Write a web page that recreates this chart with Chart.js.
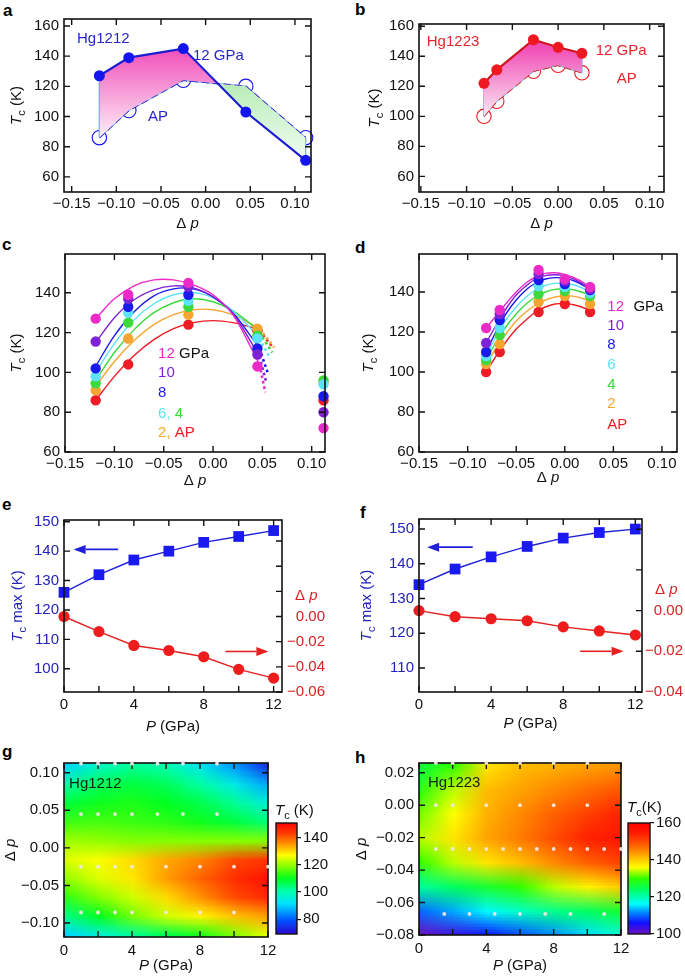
<!DOCTYPE html>
<html><head><meta charset="utf-8">
<script src="https://cdn.jsdelivr.net/npm/chart.js@4.4.1/dist/chart.umd.min.js"></script>
<style>
body{margin:0;background:#fff;width:685px;height:977px;position:relative;overflow:hidden}
canvas{position:absolute}
.lbl{position:absolute;font:bold 17px "Liberation Sans",Arial,sans-serif;line-height:17px;color:#000}
</style></head><body>
<div class="lbl" style="left:3px;top:2px">a</div>
<div class="lbl" style="left:355px;top:1px">b</div>
<div class="lbl" style="left:2px;top:236px">c</div>
<div class="lbl" style="left:355px;top:239px">d</div>
<div class="lbl" style="left:2px;top:496px">e</div>
<div class="lbl" style="left:360px;top:504px">f</div>
<div class="lbl" style="left:2px;top:743px">g</div>
<div class="lbl" style="left:355px;top:749px">h</div>
<script>
const FONT = '"Liberation Sans", Arial, Helvetica, sans-serif';

// a, b: Tc vs doping, 12 GPa and ambient pressure
const DP_1212 = [-0.119, -0.086, -0.025, 0.045, 0.112];
const TC_1212_12 = [127, 139, 145, 103, 71];
const TC_1212_AP = [86, 104, 124, 120, 86];
const DP_1223 = [-0.081, -0.067, -0.027, 0.000, 0.026];
const TC_1223_12 = [122, 131, 151, 146, 142];
const TC_1223_AP = [100, 110, 130, 134, 129];

// c: Hg1212 at every pressure (points at DP_1212)
const C_AP = [86, 104, 124, 121, 86];
const C_2 = [91, 117, 129, 122, 95];
const C_4 = [94.5, 125, 133, 118.5, 96];
const C_6 = [98, 130, 136, 117, 94];
const C_8 = [102, 133, 139, 112, 88];
const C_10 = [115.5, 137, 143, 109, 80];
const C_12 = [127, 139, 145, 103, 72];
// fitted curves
const FIT_X_C = [-0.119, -0.10, -0.08, -0.06, -0.04, -0.02, 0.00, 0.02, 0.04, 0.047];
const FIT_C_AP = [86, 98, 108.5, 116.5, 122, 125, 126, 125, 122.5, 121];
const FIT_C_2 = [93, 105.5, 116, 124, 129, 131.5, 131.5, 129, 124, 122];
const FIT_C_4 = [96, 110, 121.5, 130, 135, 137, 135.5, 131, 123.5, 120];
const FIT_C_6 = [100, 114.5, 126.5, 134.5, 139, 140, 137.5, 131, 121, 117];
const FIT_C_8 = [103, 118.5, 130.5, 138.5, 142, 142, 138, 130, 117, 112];
const FIT_C_10 = [115, 127.5, 136.5, 141.5, 143.5, 142.5, 138, 129.5, 114, 108];
const FIT_C_12 = [127, 137, 143.5, 146.5, 146.5, 144, 139, 129, 111, 104];
const DOT_END_X_C = [0.060, 0.062, 0.060, 0.058, 0.056, 0.054, 0.053];
const DOT_END_Y_C = [113, 112.5, 110, 107, 99, 95, 90];

// d: Hg1223 at every pressure (points at DP_1223)
const D_AP = [100, 110, 130, 134, 130];
const D_2 = [104, 114, 135, 138, 134];
const D_4 = [106, 118.5, 139, 140.5, 138];
const D_6 = [108, 122, 143, 142.5, 139.5];
const D_8 = [110, 126, 146, 144, 141];
const D_10 = [114.5, 129, 149, 145.5, 141.5];
const D_12 = [122, 131, 151, 146.5, 142.5];
const FIT_X_D = [-0.081, -0.07, -0.06, -0.05, -0.04, -0.03, -0.02, -0.01, 0.00, 0.01, 0.02, 0.026];
const FIT_D_AP = [100, 108.5, 115.5, 121.5, 126, 130, 132.5, 134, 134.3, 133.5, 132, 130.5];
const FIT_D_2 = [104, 112.5, 119.5, 125.5, 130, 133.5, 136, 137.5, 138.2, 137.8, 136.5, 135];
const FIT_D_4 = [106, 115.5, 123, 129, 134, 137.5, 140, 141.3, 141.6, 141, 139.5, 138];
const FIT_D_6 = [108, 118.5, 126.5, 132.5, 137.5, 141, 143.3, 144.3, 144.4, 143.5, 141.5, 139.8];
const FIT_D_8 = [110, 121, 129.5, 136, 141, 144.5, 146.5, 147.2, 146.8, 145.5, 143, 141];
const FIT_D_10 = [114.5, 124, 132, 138.5, 143, 146.5, 148.2, 148.6, 148, 146.3, 143.7, 141.7];
const FIT_D_12 = [122, 128.5, 134.5, 140, 144.5, 147.5, 149.3, 149.6, 148.8, 147, 144.5, 142.4];

// e, f: Tc max and its doping vs pressure
const P_GPA = [0, 2, 4, 6, 8, 10, 12];
const TCMAX_1212 = [126, 132, 137, 140, 143, 145, 147];
const DPMAX_1212 = [0.000, -0.012, -0.023, -0.027, -0.032, -0.042, -0.049];
const TCMAX_1223 = [134, 138.5, 142, 145, 147.4, 149, 150];
const DPMAX_1223 = [0.000, -0.003, -0.004, -0.005, -0.008, -0.010, -0.012];

// g, h: Tc maps (rows top to bottom, columns at HEAT_P)
const HEAT_P = [0, 2, 4, 6, 8, 10, 12];
const HEAT_DP_1212 = [0.11, 0.085, 0.06, 0.035, 0.01, -0.015, -0.04, -0.065, -0.09, -0.115];
const HEAT_TC_1212 = [
  [90, 98, 102, 100, 93, 85, 74],
  [101, 106, 108, 106, 101, 94, 86],
  [108, 111, 112, 110, 107, 102, 95],
  [114, 115, 114, 113, 111, 108, 104],
  [121, 120, 119, 119, 119, 119, 119],
  [125, 127, 130, 134, 137, 142, 144],
  [120, 125, 129, 135, 140, 145, 149],
  [113, 119, 124, 130, 136, 142, 146],
  [103, 110, 118, 124, 128, 132, 135],
  [90, 96, 102, 107, 112, 119, 126],
];
const HEAT_DP_1223 = [0.025, 0.01, -0.005, -0.02, -0.035, -0.05, -0.065, -0.08];
const HEAT_TC_1223 = [
  [126, 130, 138, 141, 142, 143, 144],
  [129, 134, 141, 143, 145, 147, 149],
  [132, 136, 142, 145, 148, 151, 154],
  [134, 138, 143, 146, 150, 154, 156],
  [130, 134, 138, 141, 145, 148, 151],
  [121, 124, 127, 130, 134, 137, 140],
  [110, 113, 116, 119, 122, 124, 127],
  [100, 103, 106, 109, 112, 115, 118],
];
const CBAR_1212 = [69, 151];
const CBAR_1223 = [100, 160];
// measured points shown as white dots
const G_DOT_DP = [0.112, 0.045, -0.025, -0.086];
const G_DOT_P = [[1, 2, 3, 4, 5.5, 7, 9], [1, 2, 3, 4, 5.5, 7, 9], [1, 2, 3, 4, 6, 8, 10, 12], [1, 2, 3, 4, 6, 8, 10]];
const H_DOT_DP = [0.026, 0.000, -0.027, -0.067];
const H_DOT_P = [[1, 2, 4, 6, 8, 10], [1, 2, 4, 6, 8, 10], [1, 2, 3, 4, 5, 6, 7, 8, 9, 10, 11, 12], [1.5, 3, 4.5, 6, 7.5, 9, 11]];

const P_COLORS = ['#ee1c24', '#f6a531', '#3bd93b', '#5ce3f7', '#1a1aeb', '#7f22d6', '#ec2ac8'];
const CMAP_G = [[0, '#2a0ad0'], [0.12, '#0050ff'], [0.27, '#00e0ff'], [0.38, '#00ffb0'], [0.5, '#00ff20'], [0.62, '#90ff00'], [0.71, '#ffff00'], [0.8, '#ffa000'], [0.9, '#ff4000'], [1, '#ff0000']];
const CMAP_H = [[0, '#7010c0'], [0.1, '#1010ff'], [0.2, '#0090ff'], [0.27, '#00ffff'], [0.4, '#00ff60'], [0.5, '#30ff00'], [0.6, '#ffff00'], [0.7, '#ffb000'], [0.8, '#ff6000'], [0.9, '#ff2000'], [1, '#ff0000']];

function pts(xs, ys) { return xs.map((x, i) => ({x, y: ys[i]})); }
function fmtDp(v) { if (Math.abs(v) < 1e-9) v = 0; return v.toFixed(2).replace('-', '\u2212'); }
function fmtInt(v) { return String(Math.round(v)); }
function hex(c) { return [1, 3, 5].map(i => parseInt(c.slice(i, i + 2), 16)); }
function cmap(stops, t) {
  t = Math.max(0, Math.min(1, t));
  for (let i = 1; i < stops.length; i++) {
    if (t <= stops[i][0]) {
      const f = (t - stops[i - 1][0]) / (stops[i][0] - stops[i - 1][0]);
      const a = hex(stops[i - 1][1]), b = hex(stops[i][1]);
      return a.map((v, k) => Math.round(v + (b[k] - v) * f));
    }
  }
  return hex(stops[stops.length - 1][1]);
}

function mk(cx, cy, cw, ch) {
  const c = document.createElement('canvas');
  c.width = cw; c.height = ch;
  c.style.left = cx + 'px'; c.style.top = cy + 'px';
  c.style.width = cw + 'px'; c.style.height = ch + 'px';
  document.body.appendChild(c);
  return c;
}

function drawRich(ctx, parts, x, y, o = {}) {
  const size = o.size || 15, color = o.color || '#111';
  const segs = parts.map(p => typeof p === 'string' ? {t: p, f: ''} : {t: p[0], f: p[1] || '', c: p[2]});
  const font = s => (s.f.includes('i') ? 'italic ' : '') + (s.f.includes('s') ? Math.round(size * 0.7) : size) + 'px ' + FONT;
  ctx.save();
  let w = 0;
  segs.forEach(s => { ctx.font = font(s); s.w = ctx.measureText(s.t).width; w += s.w; });
  ctx.translate(x, y);
  if (o.rotate) ctx.rotate(o.rotate);
  let cx = o.align === 'center' ? -w / 2 : o.align === 'right' ? -w : 0;
  ctx.textAlign = 'left'; ctx.textBaseline = 'alphabetic';
  segs.forEach(s => {
    ctx.font = font(s); ctx.fillStyle = s.c || color;
    ctx.fillText(s.t, cx, s.f.includes('s') ? size * 0.25 : 0);
    cx += s.w;
  });
  ctx.restore();
}
function note(chart, parts, xv, yv, o = {}) {
  const x = chart.scales.x.getPixelForValue(xv), y = chart.scales[o.ys || 'y'].getPixelForValue(yv);
  drawRich(chart.ctx, parts, x, y, o);
}

function arrow(ctx, x0, y0, x1, y1, color) {
  const ang = Math.atan2(y1 - y0, x1 - x0), L = 12, W = 4.5;
  const bx = x1 - L * Math.cos(ang), by = y1 - L * Math.sin(ang);
  ctx.save(); ctx.strokeStyle = color; ctx.fillStyle = color; ctx.lineWidth = 1.6;
  ctx.beginPath(); ctx.moveTo(x0, y0); ctx.lineTo(bx, by); ctx.stroke();
  ctx.beginPath(); ctx.moveTo(x1, y1);
  ctx.lineTo(bx + W * Math.sin(ang), by - W * Math.cos(ang));
  ctx.lineTo(bx - W * Math.sin(ang), by + W * Math.cos(ang));
  ctx.closePath(); ctx.fill();
  ctx.restore();
}

function drawFrame(chart, o = {}) {
  const {ctx, chartArea: a} = chart;
  const len = o.len || 6;
  const xs = chart.scales.x, yl = chart.scales.y, yr = chart.scales[o.yr || 'y'];
  ctx.save();
  ctx.strokeStyle = '#111'; ctx.lineWidth = 1.4;
  ctx.beginPath();
  xs.ticks.forEach(t => { const p = xs.getPixelForValue(t.value); ctx.moveTo(p, a.bottom); ctx.lineTo(p, a.bottom - len); ctx.moveTo(p, a.top); ctx.lineTo(p, a.top + len); });
  yl.ticks.forEach(t => { const p = yl.getPixelForValue(t.value); ctx.moveTo(a.left, p); ctx.lineTo(a.left + len, p); });
  yr.ticks.forEach(t => { const p = yr.getPixelForValue(t.value); ctx.moveTo(a.right, p); ctx.lineTo(a.right - len, p); });
  ctx.stroke();
  ctx.lineWidth = 1.6;
  ctx.strokeRect(a.left, a.top, a.width, a.height);
  ctx.restore();
}
const framePlugin = {id: 'frame', afterDatasetsDraw(chart, args, o) { drawFrame(chart, o); }};

const axisTitles = {
  id: 'axisTitles',
  afterDraw(chart, args, o) {
    const {ctx, chartArea: a} = chart;
    if (o.x) drawRich(ctx, o.x, (a.left + a.right) / 2, a.bottom + o.xOff, {align: 'center'});
    if (o.y) drawRich(ctx, o.y, a.left - o.yOff, (a.top + a.bottom) / 2, {align: 'center', rotate: -Math.PI / 2, color: o.yColor});
  }
};

// gradient colours for the area between two curves
const gradFill = {
  id: 'gradFill',
  afterLayout(chart, args, o) {
    const {ctx, chartArea: a} = chart;
    const y = chart.options.scales.y;
    const pix = v => a.top + (y.max - v) / (y.max - y.min) * a.height;
    const mkG = s => { const g = ctx.createLinearGradient(0, pix(s[0]), 0, pix(s[1])); g.addColorStop(0, s[2]); g.addColorStop(1, s[3]); return g; };
    const ds = chart.data.datasets[0];
    ds.fill.above = mkG(o.above);
    if (o.below) ds.fill.below = mkG(o.below);
  }
};

function lin(min, max, step, o = {}) {
  return {
    type: 'linear', min, max, position: o.pos, display: o.display !== false,
    grid: {display: false, drawTicks: false}, border: {display: false},
    ticks: {stepSize: step, includeBounds: false, autoSkip: false, maxRotation: 0, padding: o.pad ?? 4,
      color: o.color || '#111', font: {family: FONT, size: 15}, crossAlign: o.cross || 'near',
      callback: o.cb || fmtInt},
    afterFit: s => { if (o.size == null) return; if (s.isHorizontal()) s.height = o.size; else s.width = o.size; },
  };
}
function baseOpts(pad, scales, plugins) {
  return {
    responsive: false, animation: false, devicePixelRatio: 1, events: [],
    layout: {padding: pad}, scales,
    plugins: Object.assign({legend: {display: false}, tooltip: {enabled: false}}, plugins),
  };
}
const TC_TITLE = [['T', 'i'], ['c', 's'], ' (K)'];
const DP_TITLE = ['\u0394 ', ['p', 'i']];
const P_TITLE = [['P', 'i'], ' (GPa)'];

// ---------- a / b ----------
function pairPanel(box, dp, tc12, tcap, c) {
  const cv = mk(box.cx, box.cy, box.cw, box.ch);
  const n = dp.length - 1;
  new Chart(cv, {
    type: 'scatter',
    data: {datasets: [
      {data: pts(dp, tc12), showLine: true, borderColor: c.line, borderWidth: 2.2, pointRadius: 5.5,
       pointBackgroundColor: c.mark, pointBorderWidth: 0, clip: false, fill: {target: 4, above: '#f6b', below: '#cfc'}},
      {data: [{x: dp[0], y: tc12[0]}, {x: dp[0], y: tcap[0]}], showLine: true, borderColor: c.light, borderWidth: 1.3, pointRadius: 0},
      {data: [{x: dp[n], y: tc12[n]}, {x: dp[n], y: tcap[n]}], showLine: true, borderColor: c.light, borderWidth: 1.3, pointRadius: 0},
      {data: pts(dp, tcap), showLine: true, borderColor: c.line, borderWidth: 1.5, borderDash: [7, 4], pointRadius: 0},
      {data: pts(dp, tcap), showLine: true, borderColor: c.light, borderWidth: 1.3, pointRadius: 7.2,
       pointBackgroundColor: 'rgba(0,0,0,0)', pointBorderColor: c.mark, pointBorderWidth: 1.1, clip: false},
    ]},
    options: baseOpts({top: box.pt, right: box.pr, left: 0, bottom: 0}, {
      x: lin(box.xr[0], box.xr[1], 0.05, {cb: fmtDp, size: box.xH, pad: 3}),
      y: lin(box.yr[0], box.yr[1], 20, {size: box.yW, pad: 5}),
    }, {
      frame: {}, gradFill: c.grad,
      axisTitles: {x: DP_TITLE, y: TC_TITLE, xOff: 36, yOff: box.yOff},
    }),
    plugins: [gradFill, framePlugin, axisTitles, {
      id: 'notes',
      afterDraw(chart) { c.notes.forEach(nt => note(chart, [nt[0]], nt[1], nt[2], {color: c.text})); }
    }],
  });
}
pairPanel({cx: 0, cy: 0, cw: 340, ch: 240, pt: 19, pr: 29, yW: 64, xH: 48, yOff: 43, xr: [-0.1586, 0.118], yr: [50, 164.6]},
  DP_1212, TC_1212_12, TC_1212_AP,
  {line: '#1c1cd0', mark: '#1414ee', light: '#6e9fdc', text: '#2626cc',
   grad: {above: [147, 86, '#f049b8', '#fff0f8'], below: [124, 72, '#b6ecb6', '#f0fcf0']},
   notes: [['Hg1212', -0.144, 148.7], ['12 GPa', -0.0142, 137.5], ['AP', -0.0646, 97.1]]});
pairPanel({cx: 340, cy: 0, cw: 345, ch: 240, pt: 24, pr: 21, yW: 79, xH: 48, yOff: 40, xr: [-0.152, 0.1157], yr: [49.6, 161.5]},
  DP_1223, TC_1223_12, TC_1223_AP,
  {line: '#d0141c', mark: '#ee1820', light: '#7d9bcb', text: '#e3262d',
   grad: {above: [151, 100, '#f03cb0', '#fbe8f3']},
   notes: [['Hg1223', -0.1435, 146.7], ['12 GPa', 0.041, 141.1], ['AP', 0.064, 122.5]]});

// ---------- c / d ----------
function familyPanel(box, dp, series, fitX, fits, dots, legend) {
  const cv = mk(box.cx, box.cy, box.cw, box.ch);
  const order = [6, 5, 4, 3, 2, 1, 0];
  const ds = [];
  order.forEach(i => ds.push({data: pts(dp, series[i]), pointRadius: 5.2, pointBackgroundColor: P_COLORS[i], pointBorderWidth: 0, clip: false}));
  order.forEach(i => ds.push({data: pts(fitX, fits[i]), showLine: true, pointRadius: 0, borderColor: P_COLORS[i], borderWidth: 1.4, tension: 0.35}));
  if (dots) order.forEach(i => {
    const k = fitX.length - 1;
    ds.push({data: [{x: fitX[k], y: fits[i][k]}, {x: dots[0][i], y: dots[1][i]}], showLine: true, pointRadius: 0,
      borderColor: P_COLORS[i], borderWidth: 2.6, borderDash: [2.6, 3]});
  });
  new Chart(cv, {
    type: 'scatter',
    data: {datasets: ds},
    options: baseOpts({top: box.pt, right: box.pr, left: 0, bottom: 0}, {
      x: lin(box.xr[0], box.xr[1], 0.05, {cb: fmtDp, size: box.xH, pad: 3}),
      y: lin(box.yr[0], box.yr[1], 20, {size: box.yW, pad: 5}),
    }, {
      frame: {},
      axisTitles: {x: DP_TITLE, y: TC_TITLE, xOff: box.xOff, yOff: box.yOff},
    }),
    plugins: [framePlugin, axisTitles, {id: 'legendText', afterDraw(chart) { legend(chart); }}],
  });
}
familyPanel({cx: 0, cy: 240, cw: 340, ch: 250, pt: 8, pr: 15, yW: 65, xH: 38, xOff: 33, yOff: 44, xr: [-0.1501, 0.1135], yr: [60, 159.5]},
  DP_1212, [C_AP, C_2, C_4, C_6, C_8, C_10, C_12], FIT_X_C,
  [FIT_C_AP, FIT_C_2, FIT_C_4, FIT_C_6, FIT_C_8, FIT_C_10, FIT_C_12], [DOT_END_X_C, DOT_END_Y_C],
  chart => {
    const x = -0.0557, c = P_COLORS;
    note(chart, [['12', '', c[6]], [' GPa', '', '#111']], x, 107.4);
    note(chart, [['10', '', c[5]]], x, 97.6);
    note(chart, [['8', '', c[4]]], x, 87.8);
    note(chart, [['6,', '', c[3]], [' 4', '', c[2]]], x, 77.1);
    note(chart, [['2,', '', c[1]], [' AP', '', c[0]]], x, 67.3);
  });
familyPanel({cx: 340, cy: 240, cw: 345, ch: 250, pt: 9, pr: 8, yW: 79, xH: 38, xOff: 30, yOff: 46, xr: [-0.1501, 0.1155], yr: [60, 159]},
  DP_1223, [D_AP, D_2, D_4, D_6, D_8, D_10, D_12], FIT_X_D,
  [FIT_D_AP, FIT_D_2, FIT_D_4, FIT_D_6, FIT_D_8, FIT_D_10, FIT_D_12], null,
  chart => {
    const x = 0.0438, c = P_COLORS;
    note(chart, [['12', '', c[6]]], x, 130.4);
    note(chart, [['GPa', '', '#111']], 0.0706, 130.4);
    note(chart, [['10', '', c[5]]], x, 121.1);
    note(chart, [['8', '', c[4]]], x, 111.3);
    note(chart, [['6', '', c[3]]], x, 101.5);
    note(chart, [['4', '', c[2]]], x, 91.7);
    note(chart, [['2', '', c[1]]], x, 82);
    note(chart, [['AP', '', c[0]]], x, 71.7);
  });

// ---------- e / f ----------
const BLUE = '#2020d8', RED = '#e42020';
function maxPanel(box, tc, dp) {
  const cv = mk(box.cx, box.cy, box.cw, box.ch);
  new Chart(cv, {
    type: 'scatter',
    data: {datasets: [
      {data: pts(P_GPA, tc), yAxisID: 'y', showLine: true, borderColor: BLUE, borderWidth: 1.4, pointStyle: 'rect',
       pointRadius: 7.6, pointBackgroundColor: '#1a1af0', pointBorderWidth: 0, clip: false},
      {data: pts(P_GPA, dp), yAxisID: 'y2', showLine: true, borderColor: RED, borderWidth: 1.4,
       pointRadius: 5.6, pointBackgroundColor: '#ee1c1c', pointBorderWidth: 0, clip: false},
    ]},
    options: baseOpts({top: box.pt, right: box.pr, left: 0, bottom: 0}, {
      x: lin(0, box.xMax, 2, {cb: v => v % 4 === 0 ? String(v) : '', size: 48, pad: 4}),
      y: lin(box.yr[0], box.yr[1], 10, {size: box.yW, pad: 5, color: '#2323bb'}),
      y2: lin(box.y2r[0], box.y2r[1], 0.02, {pos: 'right', size: box.y2W, pad: 5, cross: 'far', color: '#d82222',
        cb: v => v > 1e-9 ? '' : fmtDp(v)}),
    }, {
      frame: {yr: 'y2'},
      axisTitles: {x: P_TITLE, y: [['T', 'i'], ['c', 's'], ' max (K)'], xOff: box.xOff, yOff: box.yOff, yColor: '#2323bb'},
    }),
    plugins: [framePlugin, axisTitles, {
      id: 'arrows',
      afterDraw(chart) {
        const {ctx, chartArea: a, scales: {x, y, y2}} = chart;
        arrow(ctx, x.getPixelForValue(box.arL[0]), y.getPixelForValue(box.arL[2]), x.getPixelForValue(box.arL[1]), y.getPixelForValue(box.arL[2]), BLUE);
        arrow(ctx, x.getPixelForValue(box.arR[0]), y2.getPixelForValue(box.arR[2]), x.getPixelForValue(box.arR[1]), y2.getPixelForValue(box.arR[2]), RED);
        drawRich(ctx, DP_TITLE, a.right + 13, y2.getPixelForValue(0) - 17, {color: '#d82222'});
      }
    }],
  });
}
maxPanel({cx: 0, cy: 490, cw: 340, ch: 250, pt: 30, pr: 15, yW: 64, y2W: 43, xMax: 12.48, xOff: 39, yOff: 42,
  yr: [92.1, 150.6], y2r: [-0.06, 0.0767], arL: [3.1, 0.55, 140.6], arR: [9.24, 11.7, -0.0278]}, TCMAX_1212, DPMAX_1212);
maxPanel({cx: 340, cy: 490, cw: 345, ch: 250, pt: 29, pr: 2, yW: 79, y2W: 41, xMax: 12.37, xOff: 36, yOff: 48,
  yr: [103.1, 152.9], y2r: [-0.04, 0.045], arL: [2.98, 0.45, 144.8], arR: [8.94, 11.35, -0.02]}, TCMAX_1223, DPMAX_1223);

// ---------- g / h ----------
function heatPanel(box, rows, grid, stops, range, dotDp, dotP, label) {
  const cv = mk(box.cx, box.cy, box.cw, box.ch);
  const dots = [];
  dotDp.forEach((d, r) => dotP[r].forEach(p => dots.push({x: p, y: d})));
  new Chart(cv, {
    type: 'scatter',
    data: {datasets: [{data: dots, pointRadius: 1.9, pointBackgroundColor: 'rgba(240,232,226,0.95)', pointBorderWidth: 0, clip: false}]},
    options: baseOpts({top: box.pt, right: box.pr, left: 0, bottom: 0}, {
      x: lin(0, 12, 2, {cb: v => v % 4 === 0 ? String(v) : '', size: box.xH, pad: 5}),
      y: lin(box.yr[0], box.yr[1], box.yStep, {cb: fmtDp, size: box.yW, pad: 5}),
    }, {
      axisTitles: {x: P_TITLE, y: DP_TITLE, xOff: box.xOff, yOff: box.yOff},
    }),
    plugins: [{
      id: 'heat',
      beforeDatasetsDraw(chart) {
        const {ctx, chartArea: a, scales: {x, y}} = chart;
        const nc = HEAT_P.length, nr = rows.length;
        const off = document.createElement('canvas');
        off.width = nc; off.height = nr;
        const octx = off.getContext('2d');
        const img = octx.createImageData(nc, nr);
        grid.forEach((row, r) => row.forEach((v, c) => {
          const rgb = cmap(stops, (v - range[0]) / (range[1] - range[0]));
          const k = (r * nc + c) * 4;
          img.data[k] = rgb[0]; img.data[k + 1] = rgb[1]; img.data[k + 2] = rgb[2]; img.data[k + 3] = 255;
        }));
        octx.putImageData(img, 0, 0);
        const x0 = x.getPixelForValue(HEAT_P[0]), x1 = x.getPixelForValue(HEAT_P[nc - 1]);
        const y0 = y.getPixelForValue(rows[0]), y1 = y.getPixelForValue(rows[nr - 1]);
        const cw = (x1 - x0) / (nc - 1), ch = (y1 - y0) / (nr - 1);
        ctx.save();
        ctx.beginPath(); ctx.rect(a.left, a.top, a.width, a.height); ctx.clip();
        ctx.imageSmoothingEnabled = true;
        ctx.drawImage(off, x0 - cw / 2, y0 - ch / 2, cw * nc, ch * nr);
        ctx.restore();
        drawFrame(chart, {});
      },
      afterDraw(chart) { note(chart, [label], box.lab[0], box.lab[1], {color: '#0d260d'}); }
    }, axisTitles],
  });
  // colour bar
  const cb = mk(box.cb.cx, box.cb.cy, box.cb.cw, box.cb.ch);
  new Chart(cb, {
    type: 'scatter',
    data: {datasets: []},
    options: baseOpts({top: box.cb.pt, left: box.cb.pl, right: 0, bottom: box.cb.pb}, {
      x: {type: 'linear', display: false, min: 0, max: 1},
      y: Object.assign(lin(range[0], range[1], 20, {pos: 'right', size: box.cb.w, pad: 2}),
        {grid: {display: true, drawOnChartArea: false, drawTicks: true, tickLength: 4, color: '#111', lineWidth: 1.2}}),
    }, {}),
    plugins: [{
      id: 'cbar',
      beforeDatasetsDraw(chart) {
        const {ctx, chartArea: a} = chart;
        const g = ctx.createLinearGradient(0, a.bottom, 0, a.top);
        stops.forEach(s => g.addColorStop(s[0], s[1]));
        ctx.fillStyle = g; ctx.fillRect(a.left, a.top, a.width, a.height);
        ctx.strokeStyle = '#111'; ctx.lineWidth = 1.4; ctx.strokeRect(a.left, a.top, a.width, a.height);
        drawRich(ctx, box.cb.title, a.left - 1, a.top - box.cb.tOff);
      }
    }],
  });
}
heatPanel({cx: 0, cy: 740, cw: 340, ch: 237, pt: 23, pr: 72, yW: 64, xH: 40, xOff: 33, yOff: 49,
  yr: [-0.1186, 0.1129], yStep: 0.05, lab: [0.3, 0.079],
  cb: {cx: 270, cy: 795, cw: 70, ch: 150, pt: 28, pl: 6, pb: 7, w: 43, tOff: 8, title: TC_TITLE}},
  HEAT_DP_1212, HEAT_TC_1212, CMAP_G, CBAR_1212, G_DOT_DP, G_DOT_P, 'Hg1212');
heatPanel({cx: 340, cy: 740, cw: 345, ch: 237, pt: 23, pr: 64, yW: 79, xH: 42, xOff: 35, yOff: 53,
  yr: [-0.08, 0.026], yStep: 0.02, lab: [0.53, 0.011],
  cb: {cx: 622, cy: 795, cw: 63, ch: 150, pt: 28, pl: 6, pb: 10, w: 35, tOff: 11, title: [['T', 'i'], ['c', 's'], '(K)']}},
  HEAT_DP_1223, HEAT_TC_1223, CMAP_H, CBAR_1223, H_DOT_DP, H_DOT_P, 'Hg1223');
</script>
</body></html>
